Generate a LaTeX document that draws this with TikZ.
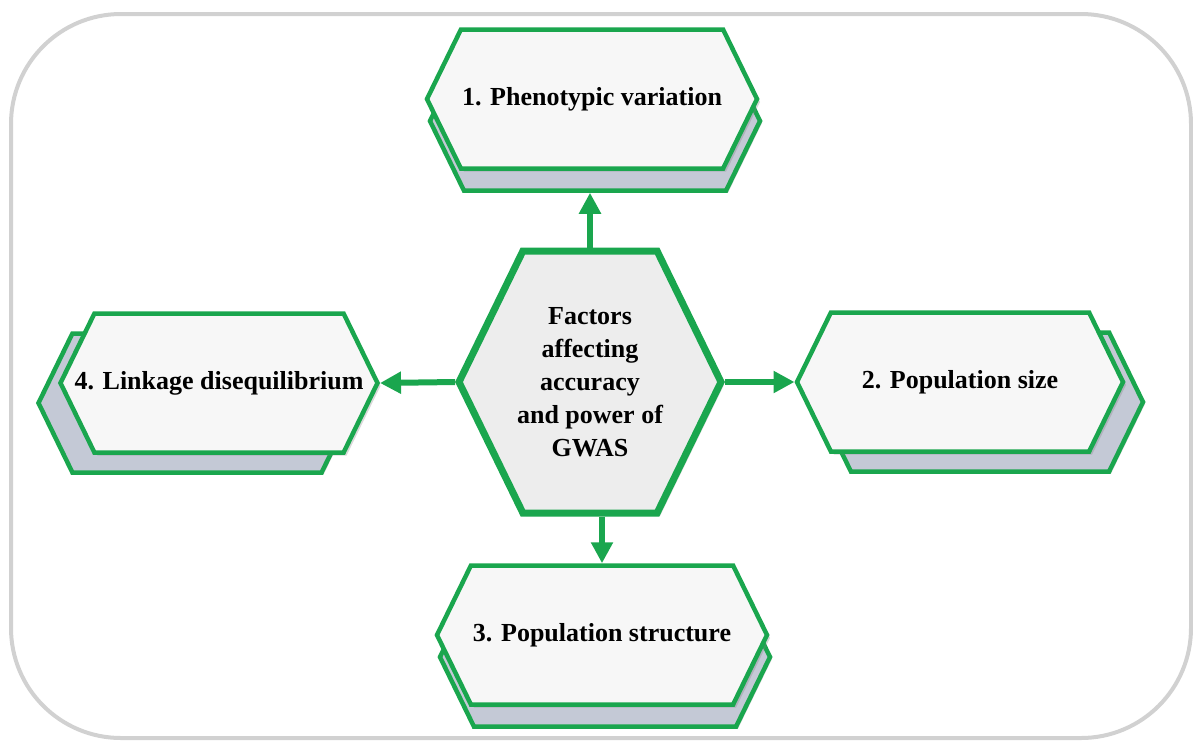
\documentclass[tikz,border=0pt]{standalone}
\usepackage{fontspec}
\setmainfont{Liberation Serif}
\usetikzlibrary{arrows.meta,shapes.symbols,shadows}

\definecolor{hexgreen}{RGB}{26,166,78}
\definecolor{hexrearfill}{RGB}{196,201,214}
\tikzset{
  hexbox/.style={signal, signal to=east and west, signal pointer angle=128,
    draw=hexgreen, line width=4.5pt, inner ysep=0pt, inner xsep=-30pt,
    minimum width=330pt, minimum height=139pt,
    font=\fontsize{26}{33}\selectfont\bfseries, align=center},
  hexfront/.style={hexbox, fill=black!3,
    drop shadow={opacity=0.3, shadow xshift=3pt, shadow yshift=-3pt}},
  hexrear/.style={hexbox, fill=hexrearfill,
    drop shadow={opacity=0.3, shadow xshift=2pt, shadow yshift=-2pt}},
  link/.style={hexgreen, line width=6pt, -{Triangle[length=21pt,width=21pt]}}
}

\begin{document}
\begin{tikzpicture}[x=1pt, y=-1pt]
\useasboundingbox (0,0) rectangle (1193,740);
\draw[black!18, line width=4pt, rounded corners=110pt] (11,14) rectangle (1191,738);
% rear copies
\node[hexrear] (pheno-back) at (595,121) {};
\node[hexrear, minimum width=326pt] (popsize-back) at (980,402) {};
\node[hexrear] (popstruct-back) at (605,657) {};
\node[hexrear, minimum width=317pt] (linkage-back) at (197,403) {};
% front boxes
\node[hexfront] (pheno) at (592,99) {1. Phenotypic variation};
\node[hexfront, minimum width=326pt] (popsize) at (960,382) {2. Population size};
\node[hexfront] (popstruct) at (602,635) {3. Population structure};
\node[hexfront, minimum width=317pt] (linkage) at (219,383) {4. Linkage disequilibrium};
% centre
\node[hexbox, fill=black!7, line width=7pt, minimum width=262pt, minimum height=262pt,
  drop shadow={opacity=0.25, shadow xshift=3pt, shadow yshift=-3pt}] (hub) at (590,382)
  {Factors\\affecting\\accuracy\\and power of\\GWAS};
% arrows
\draw[link] (hub.north) -- (hub.north |- pheno-back.south);
\draw[link] (hub.east) -- (popsize.west);
\draw[link] (hub.south -| popstruct.north) -- (popstruct.north);
\draw[link] (hub.west) -- (linkage.east);
\end{tikzpicture}
\end{document}
